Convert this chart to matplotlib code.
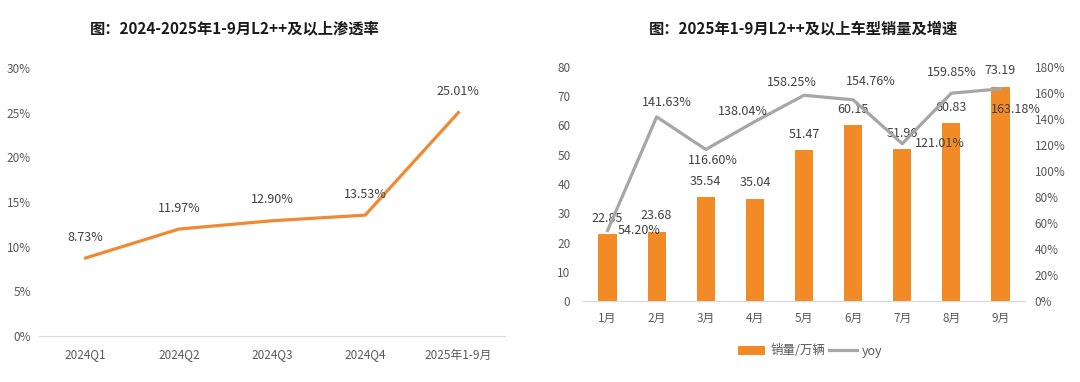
import matplotlib
matplotlib.use("Agg")
import matplotlib.pyplot as plt
from matplotlib.ticker import FuncFormatter

plt.rcParams['font.family'] = ['Noto Sans CJK SC', 'DejaVu Sans']

# left chart: penetration rate
periods = ["2024Q1", "2024Q2", "2024Q3", "2024Q4", "2025年1-9月"]
penetration = [8.73, 11.97, 12.90, 13.53, 25.01]

# right chart: monthly sales and yoy
months = ["1月", "2月", "3月", "4月", "5月", "6月", "7月", "8月", "9月"]
sales = [22.85, 23.68, 35.54, 35.04, 51.47, 60.15, 51.96, 60.83, 73.19]
yoy = [54.20, 141.63, 116.60, 138.04, 158.25, 154.76, 121.01, 159.85, 163.18]

orange_line = "#EE8A33"
orange_bar = "#F28A26"
gray_line = "#A6A6A6"
tick_c = "#595959"
lab_c = "#404040"
W, H = 1080, 382

fig = plt.figure(figsize=(10.8, 3.82), dpi=100)

# ---------- left ----------
ax1 = fig.add_axes([39 / W, 1 - 336 / H, 466 / W, 268 / H])
x = range(len(periods))
ax1.plot(x, penetration, color=orange_line, lw=2.3)
ax1.set_xlim(-0.5, len(periods) - 0.5)
ax1.set_ylim(0, 30)
ax1.set_yticks(range(0, 31, 5))
ax1.yaxis.set_major_formatter(FuncFormatter(lambda v, p: "%d%%" % v))
ax1.set_xticks(list(x))
ax1.set_xticklabels(periods)
for s in ["top", "right", "left"]:
    ax1.spines[s].set_visible(False)
ax1.spines["bottom"].set_color("#D9D9D9")
ax1.tick_params(length=0, colors=tick_c, labelsize=8.5)
ax1.tick_params(axis="x", pad=9)
ax1.tick_params(axis="y", pad=6)
for i, v in enumerate(penetration):
    ax1.annotate("%.2f%%" % v, (i, v), xytext=(0, 15), textcoords="offset points",
                 ha="center", va="center", fontsize=9, color=lab_c)
fig.text(235 / W, 1 - 28 / H, "图：2024-2025年1-9月L2++及以上渗透率", ha="center", va="center",
         fontsize=11, fontweight="bold", color="#1a1a1a")

# ---------- right ----------
ax2 = fig.add_axes([583 / W, 1 - 301 / H, 442 / W, 234 / H])
ax3 = ax2.twinx()
xm = list(range(len(months)))
bars = ax2.bar(xm, sales, width=0.37, color=orange_bar, label="销量/万辆", zorder=2)
ax2.set_xlim(-0.5, len(months) - 0.5)
ax2.set_ylim(0, 80)
ax2.set_yticks(range(0, 81, 10))
ax2.set_xticks(xm)
ax2.set_xticklabels(months)
ln, = ax3.plot(xm, yoy, color=gray_line, lw=2.3, label="yoy", zorder=3)
ax3.set_ylim(0, 180)
ax3.set_yticks(range(0, 181, 20))
ax3.yaxis.set_major_formatter(FuncFormatter(lambda v, p: "%d%%" % v))
for a in (ax2, ax3):
    for s in ["top", "right", "left"]:
        a.spines[s].set_visible(False)
    a.spines["bottom"].set_color("#D9D9D9")
    a.tick_params(length=0, colors=tick_c, labelsize=8.5)
ax2.tick_params(axis="x", pad=8)
ax2.tick_params(axis="y", pad=9)
ax3.tick_params(axis="y", pad=7)

for i, v in enumerate(sales):
    ax2.annotate("%.2f" % v, (i, v), xytext=(0, 11.5), textcoords="offset points",
                 ha="center", va="center", fontsize=9, color=lab_c, zorder=5)

# yoy label offsets (points)
yoy_off = [(23, 0), (7, 10), (5, -8), (-9, 7), (-9, 9.5), (13, 13), (27, 0), (0, 15), (11, -15)]
for i, v in enumerate(yoy):
    dx, dy = yoy_off[i]
    ax3.annotate("%.2f%%" % v, (i, v), xytext=(dx, dy), textcoords="offset points",
                 ha="center", va="center", fontsize=9, color=lab_c, zorder=5)

fig.text(804 / W, 1 - 28 / H, "图：2025年1-9月L2++及以上车型销量及增速", ha="center", va="center",
         fontsize=11, fontweight="bold", color="#1a1a1a")
fig.legend([bars, ln], ["销量/万辆", "yoy"], loc="center", bbox_to_anchor=(810 / W, 1 - 351 / H),
           ncol=2, frameon=False, fontsize=9, handlelength=2.2, handletextpad=0.4, columnspacing=0.3,
           labelcolor=tick_c)

fig.savefig("out.png", dpi=100)
